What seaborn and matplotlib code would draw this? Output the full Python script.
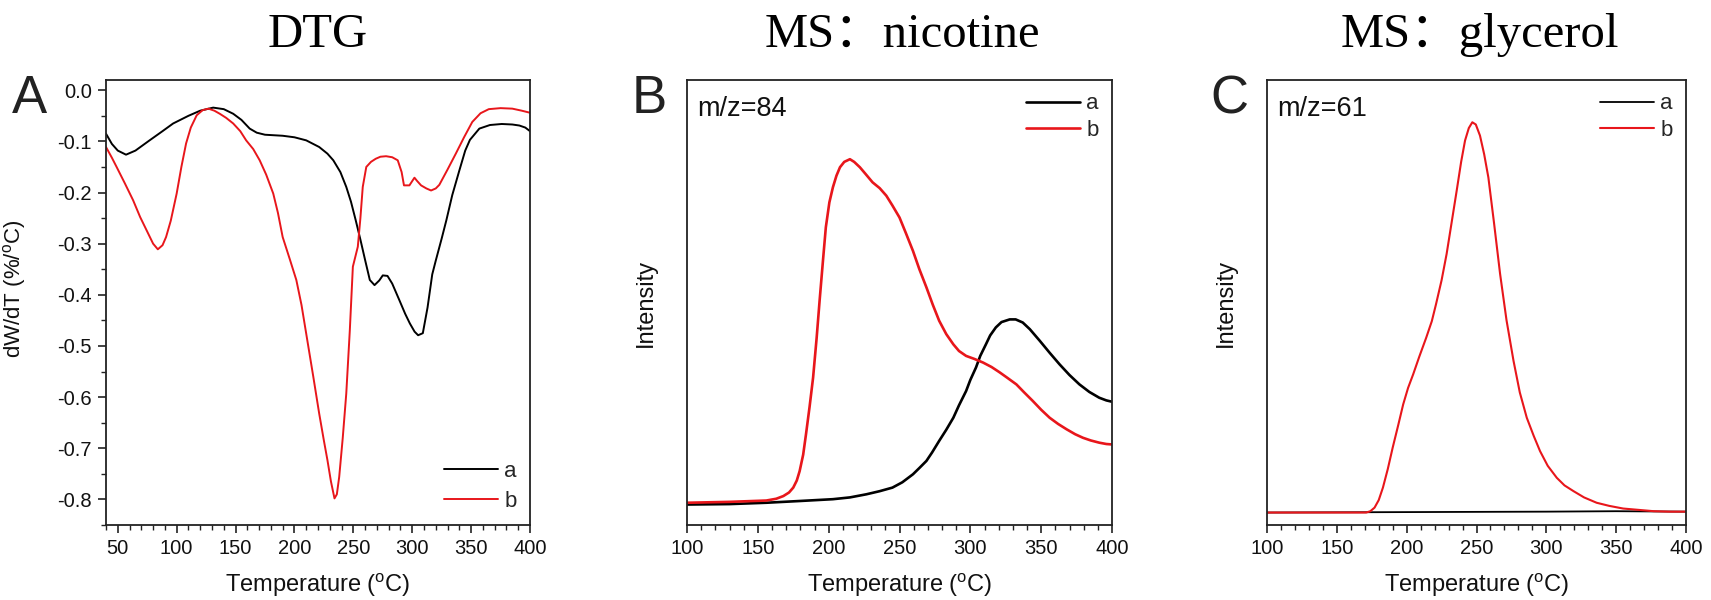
import numpy as np
import pandas as pd
import matplotlib
matplotlib.use("Agg")
import matplotlib.pyplot as plt
import seaborn as sns
from matplotlib.ticker import MultipleLocator

# ---------------- data ----------------
# Panel A (DTG)
dtg_a_T = [40, 45, 50, 57, 65, 77, 88, 97, 110, 120, 131, 140, 148, 155, 162, 168, 175, 190,
           200, 210, 221, 228, 233, 239, 244, 248, 252, 256, 260, 264, 268, 272, 275, 279,
           283, 289, 294, 298, 302, 305, 309, 313, 317, 320, 325, 329, 334, 340, 345, 349,
           357, 366, 376, 385, 391, 396, 400]
dtg_a_v = [-0.085, -0.105, -0.118, -0.126, -0.118, -0.098, -0.080, -0.065, -0.050, -0.040,
           -0.034, -0.037, -0.046, -0.058, -0.075, -0.083, -0.087, -0.089, -0.092, -0.098,
           -0.111, -0.124, -0.137, -0.160, -0.189, -0.218, -0.254, -0.292, -0.332, -0.371,
           -0.381, -0.372, -0.362, -0.363, -0.378, -0.410, -0.437, -0.456, -0.472, -0.479,
           -0.475, -0.425, -0.360, -0.333, -0.290, -0.254, -0.205, -0.157, -0.118, -0.097,
           -0.075, -0.068, -0.066, -0.067, -0.069, -0.073, -0.080]
dtg_b_T = [40, 45, 49, 56, 63, 69, 74.5, 80, 84, 88, 91, 95, 100, 104, 108, 112, 117, 122,
           127, 132, 136.6, 142, 148, 154, 159, 165, 170.5, 176, 182, 186, 190, 196, 201.6,
           206, 210, 216, 221, 225, 228, 231, 234, 236, 238, 241, 244, 247, 249.6, 253.8,
           256, 258, 261, 265, 269, 273, 277.8, 283, 287.7, 291, 293, 297.6, 301.9, 304,
           307.5, 312, 316, 320, 323, 330, 337, 344, 351, 358, 365, 375, 385, 393, 400]
dtg_b_v = [-0.111, -0.132, -0.150, -0.182, -0.215, -0.248, -0.274, -0.300, -0.311, -0.303,
           -0.287, -0.255, -0.202, -0.150, -0.104, -0.073, -0.049, -0.039, -0.036, -0.040,
           -0.046, -0.054, -0.065, -0.080, -0.098, -0.115, -0.137, -0.165, -0.202, -0.240,
           -0.287, -0.330, -0.371, -0.420, -0.476, -0.560, -0.632, -0.685, -0.723, -0.765,
           -0.798, -0.790, -0.756, -0.680, -0.593, -0.470, -0.345, -0.306, -0.250, -0.189,
           -0.150, -0.140, -0.134, -0.130, -0.129, -0.131, -0.137, -0.160, -0.186, -0.186,
           -0.171, -0.177, -0.186, -0.192, -0.196, -0.192, -0.185, -0.155, -0.124, -0.092,
           -0.062, -0.045, -0.037, -0.035, -0.036, -0.040, -0.044]

# Panel B (MS nicotine, m/z=84), relative intensity
nic_a_T = [100, 130, 156, 180, 203, 215, 226.6, 236, 245, 252, 259.5, 264, 269, 273, 278,
           283, 288, 292, 297, 300, 304, 307, 311, 314, 318, 322, 327.8, 332, 337, 342,
           349, 356, 363, 370, 377, 384, 391, 396, 400]
nic_a_v = [0.046, 0.047, 0.050, 0.054, 0.058, 0.062, 0.069, 0.076, 0.084, 0.096, 0.114,
           0.128, 0.144, 0.163, 0.189, 0.214, 0.241, 0.269, 0.301, 0.326, 0.354, 0.380,
           0.406, 0.426, 0.444, 0.456, 0.462, 0.462, 0.455, 0.440, 0.414, 0.387, 0.361,
           0.337, 0.316, 0.299, 0.286, 0.280, 0.277]
nic_b_T = [100, 130, 156, 163, 168, 172, 175, 177.5, 179.5, 182, 184, 186.5, 189, 191.5,
           193.6, 196, 198, 200.5, 203, 205.5, 208, 211, 215, 218, 222, 226, 231, 236,
           240.7, 245, 250, 254.5, 259.5, 264, 269, 273.5, 278, 283, 288, 292, 297, 303,
           309, 315, 320.7, 326, 332.5, 338, 344, 350, 356, 362, 368, 374, 379.5, 385,
           391, 396, 400]
nic_b_v = [0.050, 0.052, 0.055, 0.059, 0.065, 0.073, 0.084, 0.100, 0.121, 0.158, 0.204,
           0.265, 0.331, 0.420, 0.504, 0.595, 0.669, 0.725, 0.759, 0.785, 0.804, 0.816,
           0.822, 0.816, 0.804, 0.789, 0.770, 0.757, 0.740, 0.718, 0.691, 0.656, 0.616,
           0.575, 0.534, 0.495, 0.459, 0.429, 0.406, 0.391, 0.380, 0.373, 0.365, 0.355,
           0.343, 0.331, 0.316, 0.298, 0.279, 0.259, 0.241, 0.227, 0.215, 0.204, 0.196,
           0.190, 0.185, 0.182, 0.181]

# Panel C (MS glycerol, m/z=61), relative intensity
gly_a_T = [100, 200, 300, 350, 400]
gly_a_v = [0.028, 0.029, 0.030, 0.031, 0.030]
gly_b_T = [100, 171, 174, 177, 180, 183, 186.5, 190, 194, 197.5, 201, 204.7, 209, 214,
           218, 221, 225, 228.6, 232, 235.8, 239, 241.8, 244.5, 247, 249.5, 252.5, 255.5,
           258.5, 262.5, 266.9, 271.5, 276.5, 281, 286, 291, 295.5, 301, 307.5, 313,
           319.5, 327, 336, 345, 355, 366, 377, 388, 400]
gly_b_v = [0.028, 0.028, 0.031, 0.039, 0.056, 0.084, 0.126, 0.174, 0.225, 0.271, 0.308,
           0.339, 0.378, 0.421, 0.458, 0.496, 0.550, 0.609, 0.676, 0.751, 0.816, 0.864,
           0.892, 0.905, 0.900, 0.875, 0.833, 0.781, 0.680, 0.564, 0.460, 0.369, 0.298,
           0.241, 0.200, 0.166, 0.133, 0.106, 0.089, 0.076, 0.062, 0.050, 0.043, 0.037,
           0.034, 0.031, 0.030, 0.030]

titles = ["DTG", "MS：nicotine", "MS：glycerol"]
letters = ["A", "B", "C"]
mz_labels = ["m/z=84", "m/z=61"]
series_labels = ["a", "b"]

# ---------------- style ----------------
sns.set_theme(style="ticks")
plt.rcParams["font.family"] = ["Liberation Sans", "DejaVu Sans"]
plt.rcParams["mathtext.fontset"] = "custom"
plt.rcParams["mathtext.rm"] = "Liberation Sans"
plt.rcParams["axes.unicode_minus"] = False

BLACK = "#000000"
RED = "#e8161b"
SPINE = "#222222"
TXT = "#111111"

W, H = 1711, 600
fig = plt.figure(figsize=(W / 100, H / 100), dpi=100)


def add_ax(left, right, top=80, bottom=525):
    return fig.add_axes([left / W, (H - bottom) / H, (right - left) / W, (bottom - top) / H])


axA = add_ax(106, 530)
axB = add_ax(687, 1112)
axC = add_ax(1267, 1686)

temp_label = "Temperature ($\\mathregular{^{o}}$C)"
TICK_FS = 14.5
LEG_FS = 16


def style_ax(ax, show_y):
    for s in ax.spines.values():
        s.set_visible(True)
        s.set_color(SPINE)
        s.set_linewidth(1.3)
    ax.xaxis.set_major_locator(MultipleLocator(50))
    ax.xaxis.set_minor_locator(MultipleLocator(10))
    ax.tick_params(axis="x", which="major", direction="out", length=6, width=1.2,
                   labelsize=TICK_FS, pad=4, colors=SPINE, labelcolor=TXT)
    ax.tick_params(axis="x", which="minor", direction="out", length=3.5, width=1.0, colors=SPINE)
    ax.tick_params(top=False, right=False)
    ax.set_xlabel(temp_label, fontsize=17, labelpad=10, color=TXT)
    if not show_y:
        ax.set_yticks([])
        ax.set_ylabel("Intensity", fontsize=17, color=TXT)
        ax.yaxis.set_label_coords(-0.072, 0.5)


# Panel A
sns.lineplot(x=dtg_a_T, y=dtg_a_v, ax=axA, color=BLACK, lw=1.4, label=series_labels[0])
sns.lineplot(x=dtg_b_T, y=dtg_b_v, ax=axA, color=RED, lw=1.4, label=series_labels[1])
axA.set_xlim(40, 400)
axA.set_ylim(-0.85, 0.02)
style_ax(axA, True)
axA.yaxis.set_major_locator(MultipleLocator(0.1))
axA.yaxis.set_minor_locator(MultipleLocator(0.05))
axA.yaxis.set_major_formatter(matplotlib.ticker.FormatStrFormatter("%.1f"))
axA.tick_params(axis="y", which="major", direction="out", length=6, width=1.2,
                labelsize=TICK_FS, pad=4, colors=SPINE, labelcolor=TXT)
axA.tick_params(axis="y", which="minor", direction="out", length=3.5, width=1.0, colors=SPINE)
axA.set_ylabel("dW/dT (%/$\\mathregular{^{o}}$C)", fontsize=16, color=TXT)
axA.yaxis.set_label_coords(-0.185, 0.53)
axA.legend(loc="lower right", frameon=False, fontsize=LEG_FS, handlelength=2.4,
           handletextpad=0.3, labelspacing=0.4, borderaxespad=0.2)

# Panel B
sns.lineplot(x=nic_a_T, y=nic_a_v, ax=axB, color=BLACK, lw=1.9, label=series_labels[0])
sns.lineplot(x=nic_b_T, y=nic_b_v, ax=axB, color=RED, lw=1.9, label=series_labels[1])
axB.set_xlim(100, 400)
axB.set_ylim(0, 1)
style_ax(axB, False)
axB.legend(loc="upper right", frameon=False, fontsize=LEG_FS, handlelength=2.4,
           handletextpad=0.3, labelspacing=0.25, borderaxespad=0.2)
axB.text(0.025, 0.935, mz_labels[0], transform=axB.transAxes, fontsize=19.5,
         va="center", ha="left", color=TXT)

# Panel C
sns.lineplot(x=gly_a_T, y=gly_a_v, ax=axC, color=BLACK, lw=1.3, label=series_labels[0])
sns.lineplot(x=gly_b_T, y=gly_b_v, ax=axC, color=RED, lw=1.5, label=series_labels[1])
axC.set_xlim(100, 400)
axC.set_ylim(0, 1)
style_ax(axC, False)
axC.legend(loc="upper right", frameon=False, fontsize=LEG_FS, handlelength=2.4,
           handletextpad=0.3, labelspacing=0.25, borderaxespad=0.2)
axC.text(0.025, 0.935, mz_labels[1], transform=axC.transAxes, fontsize=19.5,
         va="center", ha="left", color=TXT)

# panel letters
for letter, xpix in zip(letters, [12, 632, 1210]):
    fig.text(xpix / W, 1 - 113 / H, letter, fontsize=38, va="baseline", ha="left",
             color="#222222", family=["Liberation Sans", "DejaVu Sans"])

# titles
for title, cx in zip(titles, [318, 902, 1480]):
    fig.text(cx / W, 1 - 47 / H, title, fontsize=35, va="baseline", ha="center",
             color="#000000", family=["Liberation Serif", "Noto Sans CJK SC", "DejaVu Serif"])

fig.savefig("out.png", dpi=100)
